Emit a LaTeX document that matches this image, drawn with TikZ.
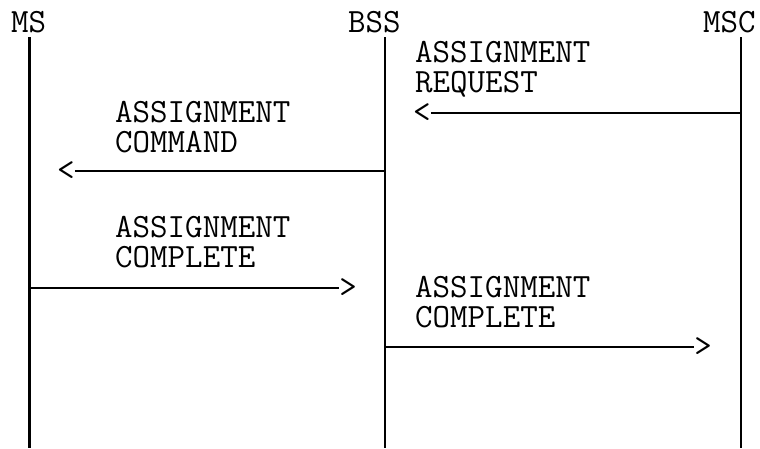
\documentclass[tikz,border=0pt]{standalone}
\usepackage{fontspec}
\begin{document}
\begin{tikzpicture}[x=1pt,y=-1pt,
  lbl/.style={font=\ttfamily\fontsize{34}{30}\selectfont, inner sep=0pt, align=left, anchor=base west},
  head/.style={font=\ttfamily\fontsize{34}{30}\selectfont, inner sep=0pt},
  life/.style={line width=2.2pt},
  msg/.style={line width=2.6pt}]
\useasboundingbox (0,0) rectangle (760,448);
% entity labels
\node[lbl] (ms)  at (11,32)  {MS};
\node[lbl] (bss) at (348,32) {BSS};
\node[lbl] (msc) at (703,32) {MSC};
% lifelines
\coordinate (msT)  at (29.5,37);  \coordinate (msB)  at (29.5,448);
\coordinate (bssT) at (385,37);   \coordinate (bssB) at (385,448);
\coordinate (mscT) at (741,37);   \coordinate (mscB) at (741,448);
\draw[life] (msT) -- (msB);
\draw[life] (bssT) -- (bssB);
\draw[life] (mscT) -- (mscB);
% message 1
\node[lbl] (t1) at (415,92) {ASSIGNMENT\\REQUEST};
\node[head, anchor=west] (h1) at (413,113) {<};
\draw[msg] (h1.east) -- (h1.east -| mscT);
% message 2
\node[lbl] (t2) at (115,152) {ASSIGNMENT\\COMMAND};
\node[head, anchor=west] (h2) at (57,171) {<};
\draw[msg] (h2.east) -- (h2.east -| bssT);
% message 3
\node[lbl] (t3) at (115,267) {ASSIGNMENT\\COMPLETE};
\node[head, anchor=east] (h3) at (357,288) {>};
\draw[msg] (h3.west -| msT) -- (h3.west);
% message 4
\node[lbl] (t4) at (415,327) {ASSIGNMENT\\COMPLETE};
\node[head, anchor=east] (h4) at (712,347) {>};
\draw[msg] (h4.west -| bssT) -- (h4.west);
\end{tikzpicture}
\end{document}
